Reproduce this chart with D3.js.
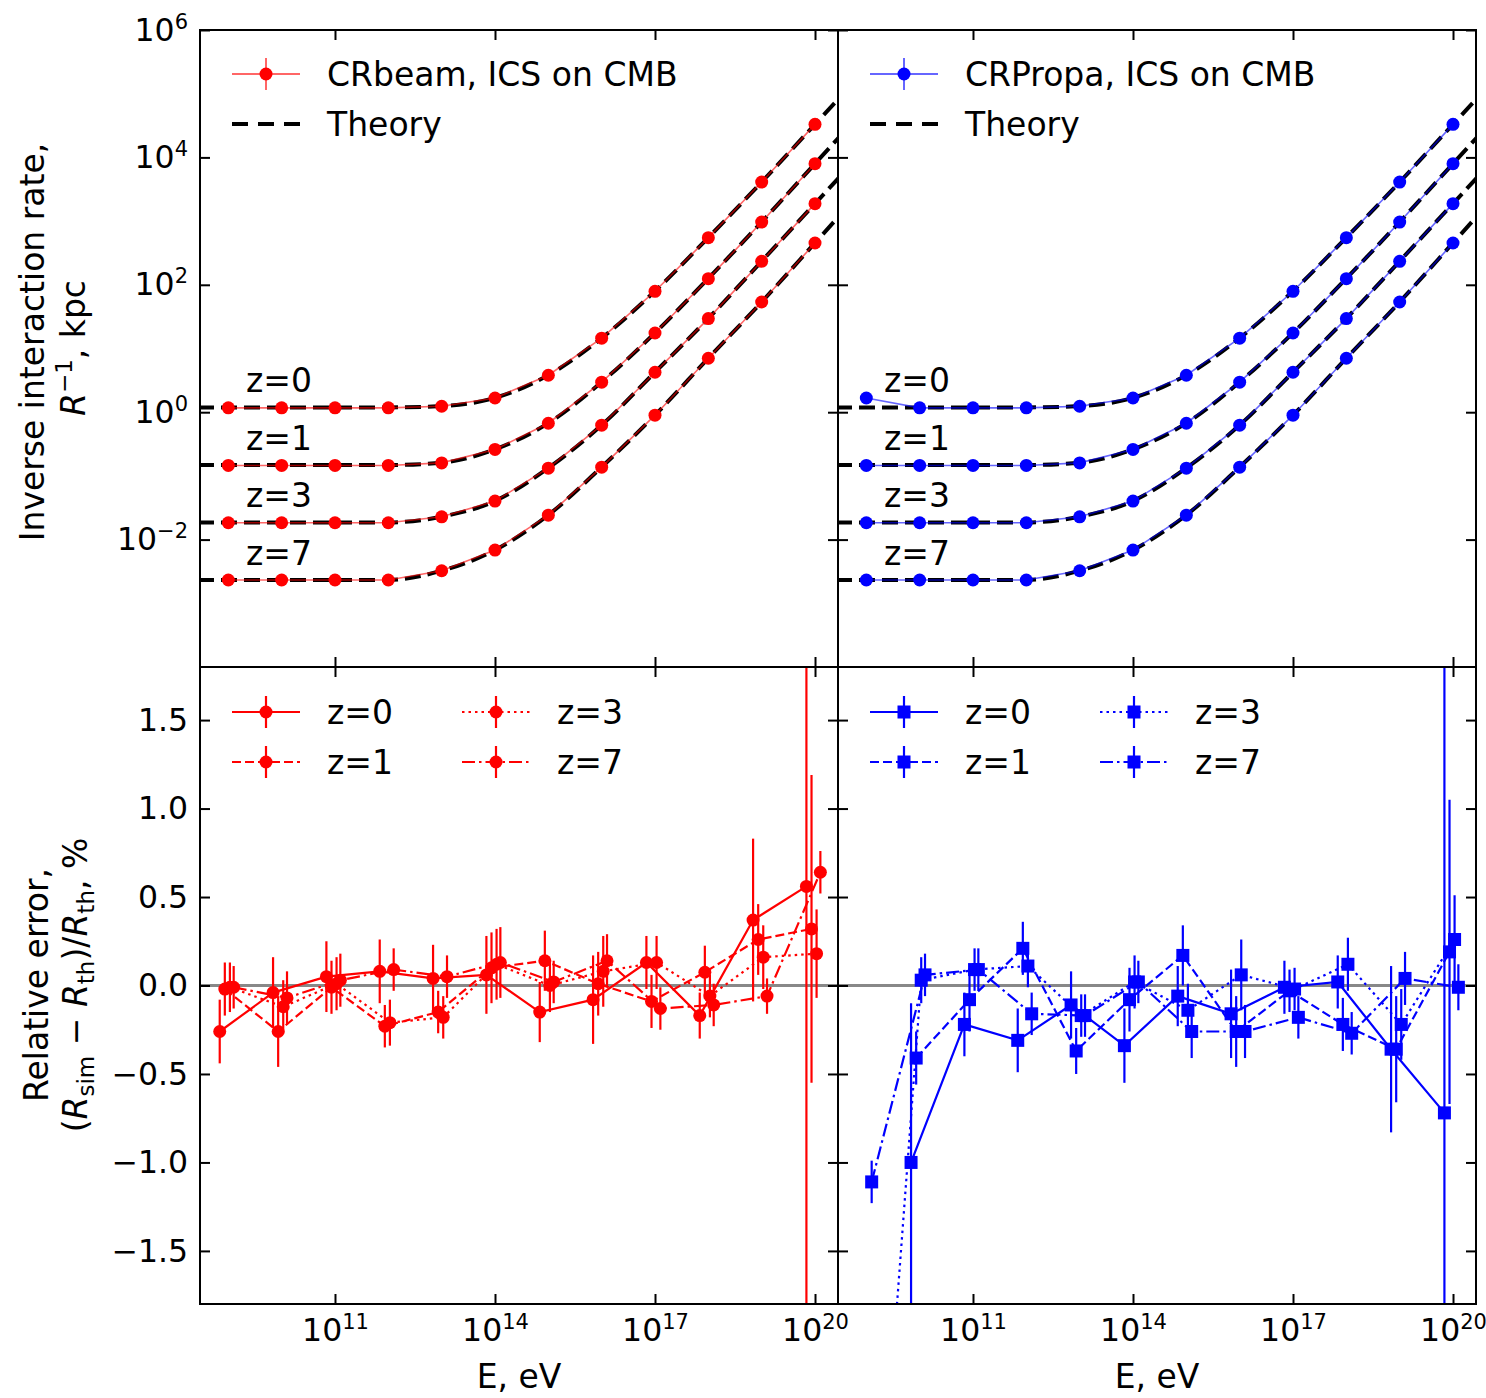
<!DOCTYPE html>
<html>
<head>
<meta charset="utf-8">
<script src="https://cdn.jsdelivr.net/npm/d3@7"></script>
<style>
  body { margin: 0; background: #fff; }
  text { font-family: "DejaVu Sans", sans-serif; fill: #000; }
</style>
</head>
<body>
<svg id="fig" width="1486" height="1398"></svg>
<script>
// ---------------- data ----------------
// electron energies of the simulated points (eV)
const energies = [1e9, 1e10, 1e11, 1e12, 1e13, 1e14, 1e15, 1e16, 1e17, 1e18, 1e19, 1e20];
// energies where the theoretical curve is tabulated (eV)
const theoryEnergies = [1e8, 1e9, 1e10, 1e11, 1e12, 1e13, 1e14, 1e15, 1e16, 1e17, 1e18, 1e19, 1e20, 1e21];
const redshifts = ["z=0", "z=1", "z=3", "z=7"];

// theoretical inverse interaction rate R^-1 (kpc)
const theoryZ0 = [1.19, 1.19, 1.19, 1.19, 1.19, 1.25, 1.68, 3.82, 14.6, 79.5, 552, 4110, 33100, 270000];
const theoryZ1 = [0.148, 0.148, 0.148, 0.148, 0.148, 0.161, 0.261, 0.673, 2.97, 17.6, 126, 968, 7980, 66000];
const theoryZ3 = [0.0186, 0.0186, 0.0186, 0.0186, 0.0186, 0.0229, 0.0404, 0.133, 0.627, 4.25, 29.6, 235, 1885, 15200];
const theoryZ7 = [0.00233, 0.00233, 0.00233, 0.00233, 0.00233, 0.00325, 0.00686, 0.0243, 0.138, 0.90, 7.05, 53.8, 455, 3900];

// simulated R^-1 (kpc), CRbeam
const crbeamZ0 = [1.17, 1.17, 1.17, 1.17, 1.24, 1.67, 3.80, 14.5, 79.1, 550, 4100, 33000];
const crbeamZ1 = [0.146, 0.146, 0.146, 0.146, 0.160, 0.260, 0.671, 2.96, 17.5, 125, 966, 7960];
const crbeamZ3 = [0.0184, 0.0184, 0.0184, 0.0184, 0.0228, 0.0402, 0.132, 0.625, 4.24, 29.5, 234, 1880];
const crbeamZ7 = [0.00232, 0.00232, 0.00232, 0.00232, 0.00324, 0.00684, 0.0242, 0.137, 0.898, 7.03, 53.7, 453];

// simulated R^-1 (kpc), CRPropa
const crpropaZ0 = [1.67, 1.17, 1.17, 1.17, 1.24, 1.67, 3.80, 14.5, 79.1, 550, 4100, 33000];
const crpropaZ1 = [0.146, 0.146, 0.146, 0.146, 0.160, 0.260, 0.671, 2.96, 17.5, 125, 966, 7960];
const crpropaZ3 = [0.0184, 0.0184, 0.0184, 0.0184, 0.0228, 0.0402, 0.132, 0.625, 4.24, 29.5, 234, 1880];
const crpropaZ7 = [0.00232, 0.00232, 0.00232, 0.00232, 0.00324, 0.00684, 0.0242, 0.137, 0.898, 7.03, 53.7, 453];

// energy multipliers used to separate the redshift series in the error panels
const errEnergyShift = [0.69, 0.86, 1.07, 1.26];

// relative error (%) and its 1-sigma uncertainty, CRbeam
const crbeamErrZ0 = [-0.26, -0.04, 0.05, 0.08, 0.04, 0.06, -0.15, -0.08, 0.13, -0.17, 0.37, 0.56];
const crbeamSigZ0 = [0.18, 0.20, 0.20, 0.18, 0.19, 0.22, 0.17, 0.25, 0.15, 0.13, 0.46, 3.0];
const crbeamErrZ1 = [-0.02, -0.26, -0.01, -0.23, -0.15, 0.10, 0.14, 0.01, -0.09, 0.075, 0.26, 0.32];
const crbeamSigZ1 = [0.15, 0.20, 0.15, 0.12, 0.12, 0.20, 0.17, 0.18, 0.15, 0.15, 0.20, 0.87];
const crbeamErrZ3 = [-0.01, -0.12, 0.01, -0.21, -0.18, 0.12, 0.00, 0.08, 0.13, -0.06, 0.16, 0.18];
const crbeamSigZ3 = [0.14, 0.15, 0.15, 0.13, 0.12, 0.20, 0.15, 0.20, 0.15, 0.12, 0.18, 0.25];
const crbeamErrZ7 = [-0.01, -0.07, 0.03, 0.09, 0.05, 0.13, 0.02, 0.14, -0.13, -0.11, -0.06, 0.64];
const crbeamSigZ7 = [0.12, 0.15, 0.15, 0.12, 0.12, 0.20, 0.12, 0.15, 0.12, 0.12, 0.10, 0.12];

// relative error (%) and its 1-sigma uncertainty, CRPropa
const crpropaErrZ0 = [null, -1.00, -0.22, -0.31, -0.11, -0.34, -0.06, -0.16, -0.01, 0.02, -0.36, -0.72];
const crpropaSigZ0 = [null, 0.90, 0.18, 0.18, 0.19, 0.21, 0.17, 0.25, 0.15, 0.15, 0.47, 3.0];
const crpropaErrZ1 = [null, -0.41, -0.08, 0.21, -0.37, -0.08, 0.17, -0.26, -0.03, -0.22, -0.36, 0.19];
const crpropaSigZ1 = [null, 0.15, 0.18, 0.15, 0.13, 0.18, 0.17, 0.20, 0.12, 0.15, 0.30, 0.86];
const crpropaErrZ3 = [-4.0, 0.03, 0.09, 0.11, -0.17, 0.02, -0.14, 0.06, -0.02, 0.12, -0.22, 0.26];
const crpropaSigZ3 = [0.30, 0.13, 0.12, 0.12, 0.12, 0.15, 0.15, 0.20, 0.12, 0.15, 0.20, 0.25];
const crpropaErrZ7 = [-1.11, 0.06, 0.09, -0.16, -0.17, 0.02, -0.26, -0.26, -0.18, -0.27, 0.04, -0.01];
const crpropaSigZ7 = [0.12, 0.12, 0.12, 0.12, 0.12, 0.12, 0.15, 0.15, 0.12, 0.12, 0.15, 0.13];

// axis ticks
const energyTicks = [1e11, 1e14, 1e17, 1e20];
const rateTicks = [1e-2, 1e0, 1e2, 1e4, 1e6];
const errTicks = [-1.5, -1.0, -0.5, 0.0, 0.5, 1.0, 1.5];

// ---------------- layout & styles ----------------
const W = 638, H = 637;
const FONT = "DejaVu Sans";
const RED = "#ff0000", BLUE = "#0000ff";
const dashes = [null, "9,4", "2.5,4", "13,4,2.5,4"];

const x = d3.scaleLog().domain([Math.pow(10, 8.469), Math.pow(10, 20.431)]).range([0, W]);
const yRate = d3.scaleLog().domain([1e-4, 1e6]).range([H, 0]);
const yErr = d3.scaleLinear().domain([-1.8, 1.8]).range([H, 0]);

const svg = d3.select("#fig");
const defs = svg.append("defs");
defs.append("clipPath").attr("id", "plotclip")
  .append("rect").attr("x", 0).attr("y", 0).attr("width", W).attr("height", H);

function expText(v) {
  const e = Math.round(Math.log10(v));
  return e < 0 ? "\u2212" + (-e) : String(e);
}
function powerLabel(sel) {
  sel.each(function (d) {
    const t = d3.select(this);
    t.text(null);
    t.append("tspan").text("10");
    t.append("tspan").attr("font-size", 21).attr("dy", -12).text(expText(d));
  });
}
function errFmt(v) {
  return (v < 0 ? "\u2212" : "") + Math.abs(v).toFixed(1);
}

function makePanel(ox, oy) {
  return svg.append("g").attr("transform", `translate(${ox},${oy})`);
}

function drawAxes(g, yScale, yTicks, opts) {
  const style = s => {
    s.select(".domain").remove();
    s.attr("font-family", FONT).attr("font-size", 31.5);
    s.selectAll(".tick line").attr("stroke", "#000").attr("stroke-width", 2);
  };
  // bottom
  const xb = g.append("g").attr("transform", `translate(0,${H})`)
    .call(d3.axisBottom(x).tickValues(energyTicks).tickSize(-10).tickPadding(15).tickFormat(() => ""))
    .call(style);
  if (opts.xLabels) xb.selectAll(".tick text").call(powerLabel);
  // top
  g.append("g").call(d3.axisTop(x).tickValues(energyTicks).tickSize(-10).tickFormat(() => "")).call(style);
  // left
  const yl = g.append("g")
    .call(d3.axisLeft(yScale).tickValues(yTicks).tickSize(-10).tickPadding(12)
      .tickFormat(opts.yLabels ? (opts.log ? () => "" : errFmt) : () => ""))
    .call(style);
  if (opts.yLabels && opts.log) yl.selectAll(".tick text").call(powerLabel);
  // right
  g.append("g").attr("transform", `translate(${W},0)`)
    .call(d3.axisRight(yScale).tickValues(yTicks).tickSize(-10).tickFormat(() => "")).call(style);
  // frame
  g.append("rect").attr("width", W).attr("height", H)
    .attr("fill", "none").attr("stroke", "#000").attr("stroke-width", 2);
}

function marker(g, shape, cx, cy, color) {
  if (shape === "circle") {
    g.append("circle").attr("cx", cx).attr("cy", cy).attr("r", 6.5).attr("fill", color);
  } else {
    g.append("rect").attr("x", cx - 6.5).attr("y", cy - 6.5).attr("width", 13).attr("height", 13).attr("fill", color);
  }
}

// ---------------- top panels: inverse interaction rate ----------------
const theorySeries = [theoryZ0, theoryZ1, theoryZ3, theoryZ7];
const rateLine = d3.line().x(d => x(d.e)).y(d => yRate(d.r));
const theoryLine = d3.line().x(d => x(d.e)).y(d => yRate(d.r)).curve(d3.curveMonotoneX);

function ratePanel(ox, oy, simSeries, color, label) {
  const g = makePanel(ox, oy);
  const plot = g.append("g").attr("clip-path", "url(#plotclip)");

  theorySeries.forEach(th => {
    plot.append("path")
      .datum(theoryEnergies.map((e, i) => ({ e, r: th[i] })))
      .attr("d", theoryLine)
      .attr("fill", "none").attr("stroke", "#000").attr("stroke-width", 4)
      .attr("stroke-dasharray", "16,7");
  });
  simSeries.forEach(sim => {
    const pts = energies.map((e, i) => ({ e, r: sim[i] }));
    plot.append("path").datum(pts).attr("d", rateLine)
      .attr("fill", "none").attr("stroke", color).attr("stroke-width", 1.6).attr("stroke-opacity", 0.6);
    pts.forEach(p => marker(plot, "circle", x(p.e), yRate(p.r), color));
  });

  // redshift labels above each plateau
  redshifts.forEach((z, i) => {
    g.append("text").attr("x", 46).attr("y", yRate(theorySeries[i][0]) - 15)
      .attr("font-size", 33).text(z);
  });

  // legend
  const lg = g.append("g");
  lg.append("line").attr("x1", 32).attr("x2", 100).attr("y1", 44).attr("y2", 44)
    .attr("stroke", color).attr("stroke-width", 2).attr("stroke-opacity", 0.6);
  lg.append("line").attr("x1", 66).attr("x2", 66).attr("y1", 28).attr("y2", 60)
    .attr("stroke", color).attr("stroke-width", 2).attr("stroke-opacity", 0.6);
  marker(lg, "circle", 66, 44, color);
  lg.append("text").attr("x", 127).attr("y", 44).attr("dy", "0.36em").attr("font-size", 33).text(label);
  lg.append("line").attr("x1", 32).attr("x2", 100).attr("y1", 94).attr("y2", 94)
    .attr("stroke", "#000").attr("stroke-width", 4).attr("stroke-dasharray", "16,10");
  lg.append("text").attr("x", 127).attr("y", 94).attr("dy", "0.36em").attr("font-size", 33).text("Theory");
  return g;
}

const tl = ratePanel(200, 30, [crbeamZ0, crbeamZ1, crbeamZ3, crbeamZ7], RED, "CRbeam, ICS on CMB");
drawAxes(tl, yRate, rateTicks, { xLabels: false, yLabels: true, log: true });
const tr = ratePanel(838, 30, [crpropaZ0, crpropaZ1, crpropaZ3, crpropaZ7], BLUE, "CRPropa, ICS on CMB");
drawAxes(tr, yRate, rateTicks, { xLabels: false, yLabels: false, log: true });

// ---------------- bottom panels: relative error ----------------
const errLine = d3.line().defined(d => d.v != null).x(d => x(d.e)).y(d => yErr(d.v));

function errPanel(ox, oy, vals, sigs, color, shape) {
  const g = makePanel(ox, oy);
  const plot = g.append("g").attr("clip-path", "url(#plotclip)");
  plot.append("line").attr("x1", 0).attr("x2", W).attr("y1", yErr(0)).attr("y2", yErr(0))
    .attr("stroke", "#888").attr("stroke-width", 3);

  vals.forEach((series, k) => {
    const pts = energies.map((e, i) => ({ e: e * errEnergyShift[k], v: series[i], s: sigs[k][i] }));
    plot.append("path").datum(pts).attr("d", errLine)
      .attr("fill", "none").attr("stroke", color).attr("stroke-width", 2.2)
      .attr("stroke-dasharray", dashes[k]);
    pts.filter(p => p.v != null).forEach(p => {
      plot.append("line").attr("x1", x(p.e)).attr("x2", x(p.e))
        .attr("y1", yErr(p.v - p.s)).attr("y2", yErr(p.v + p.s))
        .attr("stroke", color).attr("stroke-width", 2.2);
      marker(plot, shape, x(p.e), yErr(p.v), color);
    });
  });

  // legend: two columns
  const lg = g.append("g");
  const slots = [[32, 45], [32, 95], [262, 45], [262, 95]];
  redshifts.forEach((z, k) => {
    const [lx, ly] = slots[k];
    lg.append("line").attr("x1", lx).attr("x2", lx + 68).attr("y1", ly).attr("y2", ly)
      .attr("stroke", color).attr("stroke-width", 2.2).attr("stroke-dasharray", dashes[k]);
    lg.append("line").attr("x1", lx + 34).attr("x2", lx + 34).attr("y1", ly - 16).attr("y2", ly + 16)
      .attr("stroke", color).attr("stroke-width", 2.2);
    marker(lg, shape, lx + 34, ly, color);
    lg.append("text").attr("x", lx + 95).attr("y", ly).attr("dy", "0.36em").attr("font-size", 33).text(z);
  });
  return g;
}

const bl = errPanel(200, 667,
  [crbeamErrZ0, crbeamErrZ1, crbeamErrZ3, crbeamErrZ7],
  [crbeamSigZ0, crbeamSigZ1, crbeamSigZ3, crbeamSigZ7], RED, "circle");
drawAxes(bl, yErr, errTicks, { xLabels: true, yLabels: true, log: false });
const br = errPanel(838, 667,
  [crpropaErrZ0, crpropaErrZ1, crpropaErrZ3, crpropaErrZ7],
  [crpropaSigZ0, crpropaSigZ1, crpropaSigZ3, crpropaSigZ7], BLUE, "square");
drawAxes(br, yErr, errTicks, { xLabels: true, yLabels: false, log: false });

// ---------------- axis titles ----------------
[200, 838].forEach(ox => {
  svg.append("text").attr("x", ox + W / 2).attr("y", 1388).attr("text-anchor", "middle")
    .attr("font-size", 33).text("E, eV");
});

// top y title
svg.append("text").attr("transform", "translate(44,342) rotate(-90)")
  .attr("text-anchor", "middle").attr("font-size", 33).text("Inverse interaction rate,");
const yt2 = svg.append("text").attr("transform", "translate(85,348) rotate(-90)")
  .attr("text-anchor", "middle").attr("font-size", 33);
yt2.append("tspan").attr("font-style", "italic").text("R");
yt2.append("tspan").attr("font-size", 23).attr("dy", -13).text("\u22121");
yt2.append("tspan").attr("dy", 13).text(", kpc");

// bottom y title
svg.append("text").attr("transform", "translate(48,985) rotate(-90)")
  .attr("text-anchor", "middle").attr("font-size", 33).text("Relative error,");
const yb2 = svg.append("text").attr("transform", "translate(87,985) rotate(-90)")
  .attr("text-anchor", "middle").attr("font-size", 33);
yb2.append("tspan").text("(");
yb2.append("tspan").attr("font-style", "italic").text("R");
yb2.append("tspan").attr("font-size", 23).attr("dy", 7).text("sim");
yb2.append("tspan").attr("dy", -7).text(" \u2212 ");
yb2.append("tspan").attr("font-style", "italic").text("R");
yb2.append("tspan").attr("font-size", 23).attr("dy", 7).text("th");
yb2.append("tspan").attr("dy", -7).text(")/");
yb2.append("tspan").attr("font-style", "italic").text("R");
yb2.append("tspan").attr("font-size", 23).attr("dy", 7).text("th");
yb2.append("tspan").attr("dy", -7).text(", %");
</script>
</body>
</html>
